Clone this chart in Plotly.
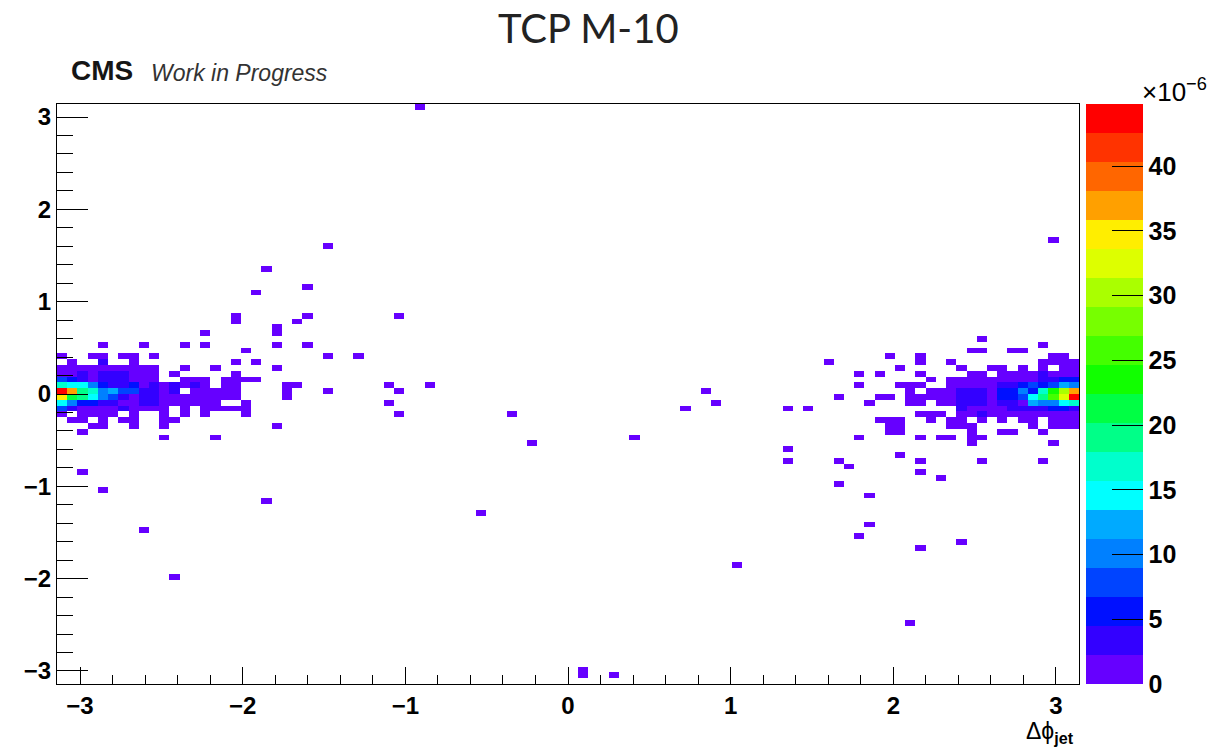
import numpy as np
import plotly.graph_objects as go

# ---------------- data (bin index in dphi_jet, weight in units of 1e-6) ----------------
N_BINS = 100
LO, HI = -np.pi, np.pi

# each row: (x-bin index, weight x1e-6) for the y-bin named in the variable
row_99 = [(35, 1.1)]
row_76 = [(97, 1.1)]
row_75 = [(26, 1.1)]
row_71 = [(20, 1.1)]
row_68 = [(24, 1.1)]
row_67 = [(19, 1.1)]
row_63 = [(17, 1.1), (24, 1.1), (33, 1.1)]
row_62 = [(17, 1.1), (23, 1.1)]
row_61 = [(21, 1.1)]
row_60 = [(14, 1.1), (21, 1.1)]
row_59 = [(90, 1.1)]
row_58 = [(4, 1.1), (8, 1.1), (12, 1.1), (14, 1.1), (21, 1.1), (24, 1.1), (96, 1.1)]
row_57 = [(18, 1.1), (89, 1.1), (90, 1.1), (93, 1.1), (94, 1.1)]
row_56 = [(0, 1.1), (3, 1.1), (4, 1.1), (6, 1.1), (7, 1.1), (9, 1.1), (26, 1.1), (29, 1.1),
          (81, 1.1), (84, 1.1), (97, 1.1), (98, 1.1)]
row_55 = [(1, 1.1), (4, 3.4), (7, 1.1), (17, 1.1), (19, 1.1), (75, 1.1), (84, 1.1), (87, 1.1),
          (96, 1.1), (97, 1.1), (98, 1.1), (99, 1.1)]
row_54 = [(0, 1.1), (1, 1.1), (2, 1.1), (3, 1.1), (4, 1.1), (5, 1.1), (6, 1.1), (7, 1.1), (8, 1.1),
          (9, 1.1), (12, 1.1), (15, 1.1), (21, 1.1), (82, 1.1), (88, 1.1), (91, 1.1), (92, 1.1),
          (94, 1.1), (96, 1.1), (98, 1.1), (99, 1.1)]
row_53 = [(0, 1.1), (1, 1.1), (2, 3.4), (3, 1.1), (4, 3.4), (5, 3.4), (6, 3.4), (7, 1.1), (8, 1.1),
          (9, 1.1), (11, 1.1), (17, 1.1), (78, 1.1), (80, 1.1), (84, 1.1), (89, 1.1), (90, 1.1),
          (92, 1.1), (93, 1.1), (94, 1.1), (95, 1.1), (96, 3.4), (97, 1.1), (98, 1.1), (99, 1.1)]
row_52 = [(0, 7.8), (1, 5.6), (2, 3.4), (3, 1.1), (4, 3.4), (5, 3.4), (6, 3.4), (7, 1.1), (8, 1.1),
          (9, 1.1), (12, 1.1), (13, 1.1), (14, 1.1), (16, 1.1), (17, 1.1), (18, 1.1), (19, 1.1),
          (85, 1.1), (87, 1.1), (88, 1.1), (89, 1.1), (90, 1.1), (91, 1.1), (92, 1.1), (93, 1.1),
          (94, 1.1), (95, 1.1), (96, 3.4), (97, 3.4), (98, 5.6), (99, 5.6)]
row_51 = [(0, 16.8), (1, 14.6), (2, 14.6), (3, 10.1), (4, 5.6), (5, 3.4), (6, 3.4), (7, 5.6),
          (8, 1.1), (9, 3.4), (10, 1.1), (11, 3.4), (12, 1.1), (13, 3.4), (14, 1.1), (16, 1.1),
          (17, 1.1), (22, 1.1), (23, 1.1), (32, 1.1), (36, 1.1), (78, 1.1), (82, 1.1), (83, 1.1),
          (84, 1.1), (87, 1.1), (88, 1.1), (89, 1.1), (90, 1.1), (91, 1.1), (92, 3.4), (93, 3.4),
          (94, 5.6), (95, 7.8), (96, 5.6), (97, 7.8), (98, 12.3), (99, 10.1)]
row_50 = [(0, 43.7), (1, 36.9), (2, 19.0), (3, 16.8), (4, 10.1), (5, 12.3), (6, 7.8), (7, 7.8),
          (8, 3.4), (9, 3.4), (10, 1.1), (11, 3.4), (13, 1.1), (14, 1.1), (15, 1.1), (16, 1.1),
          (17, 1.1), (22, 1.1), (26, 1.1), (33, 1.1), (63, 1.1), (83, 1.1), (85, 1.1), (86, 1.1),
          (87, 1.1), (88, 3.4), (89, 3.4), (90, 3.4), (91, 1.1), (92, 5.6), (93, 5.6), (94, 10.1),
          (95, 5.6), (96, 16.8), (97, 23.5), (98, 30.2), (99, 36.9)]
row_49 = [(0, 34.7), (1, 21.3), (2, 19.0), (3, 14.6), (4, 10.1), (5, 7.8), (6, 3.4), (7, 1.1),
          (8, 3.4), (9, 3.4), (10, 1.1), (11, 1.1), (12, 1.1), (13, 1.1), (14, 1.1), (15, 1.1),
          (16, 1.1), (17, 1.1), (22, 1.1), (76, 1.1), (80, 1.1), (81, 1.1), (83, 1.1), (84, 1.1),
          (85, 1.1), (86, 1.1), (87, 1.1), (88, 3.4), (89, 3.4), (90, 3.4), (91, 1.1), (92, 5.6),
          (93, 5.6), (94, 7.8), (95, 14.6), (96, 19.0), (97, 25.8), (98, 32.5), (99, 43.7)]
row_48 = [(0, 14.6), (1, 10.1), (2, 5.6), (3, 5.6), (4, 3.4), (5, 3.4), (6, 1.1), (7, 1.1),
          (8, 3.4), (9, 3.4), (10, 1.1), (11, 1.1), (12, 1.1), (13, 1.1), (14, 1.1), (15, 1.1),
          (18, 1.1), (32, 1.1), (64, 1.1), (79, 1.1), (83, 1.1), (84, 1.1), (86, 1.1), (87, 1.1),
          (88, 3.4), (89, 3.4), (90, 3.4), (91, 1.1), (92, 3.4), (93, 3.4), (94, 1.1), (95, 12.3),
          (96, 10.1), (97, 10.1), (98, 14.6), (99, 16.8)]
row_47 = [(0, 7.8), (1, 3.4), (2, 1.1), (3, 1.1), (4, 1.1), (5, 1.1), (6, 3.4), (7, 1.1), (8, 1.1),
          (9, 1.1), (10, 1.1), (12, 1.1), (14, 1.1), (15, 1.1), (16, 1.1), (17, 1.1), (18, 1.1),
          (61, 1.1), (71, 1.1), (73, 1.1), (88, 3.4), (89, 1.1), (90, 1.1), (91, 1.1), (92, 1.1),
          (93, 3.4), (94, 3.4), (95, 3.4), (96, 3.4), (97, 5.6), (98, 5.6), (99, 3.4)]
row_46 = [(0, 1.1), (2, 1.1), (3, 1.1), (4, 1.1), (5, 1.1), (7, 1.1), (10, 1.1), (12, 1.1),
          (14, 1.1), (18, 1.1), (33, 1.1), (44, 1.1), (84, 1.1), (85, 1.1), (86, 1.1), (88, 1.1),
          (89, 1.1), (90, 3.4), (91, 1.1), (92, 1.1), (93, 1.1), (94, 1.1), (95, 1.1), (96, 1.1),
          (97, 1.1), (98, 1.1), (99, 1.1)]
row_45 = [(1, 1.1), (2, 1.1), (4, 1.1), (6, 1.1), (7, 1.1), (10, 1.1), (11, 1.1), (80, 1.1),
          (81, 1.1), (82, 1.1), (85, 1.1), (87, 1.1), (88, 1.1), (90, 1.1), (92, 1.1), (94, 1.1),
          (95, 1.1), (97, 1.1), (98, 1.1), (99, 1.1)]
row_44 = [(3, 1.1), (4, 1.1), (7, 1.1), (10, 1.1), (21, 1.1), (81, 1.1), (82, 1.1), (87, 1.1),
          (88, 1.1), (89, 1.1), (95, 1.1), (97, 1.1), (98, 1.1), (99, 1.1)]
row_43 = [(2, 1.1), (81, 1.1), (82, 1.1), (89, 1.1), (92, 1.1), (93, 1.1), (96, 1.1)]
row_42 = [(10, 1.1), (15, 1.1), (56, 1.1), (78, 1.1), (84, 1.1), (86, 1.1), (87, 1.1), (89, 1.1),
          (90, 1.1)]
row_41 = [(46, 1.1), (89, 1.1), (97, 1.1)]
row_40 = [(71, 1.1)]
row_39 = [(82, 1.1)]
row_38 = [(71, 1.1), (76, 1.1), (84, 1.1), (90, 1.1), (96, 1.1)]
row_37 = [(77, 1.1)]
row_36 = [(2, 1.1), (84, 1.1)]
row_35 = [(86, 1.1)]
row_34 = [(76, 1.1)]
row_33 = [(4, 1.1)]
row_32 = [(79, 1.1)]
row_31 = [(20, 1.1)]
row_29 = [(41, 1.1)]
row_27 = [(79, 1.1)]
row_26 = [(8, 1.1)]
row_25 = [(78, 1.1)]
row_24 = [(88, 1.1)]
row_23 = [(84, 1.1)]
row_20 = [(66, 1.1)]
row_18 = [(11, 1.1)]
row_10 = [(83, 1.1)]
row_2 = [(51, 1.1)]
row_1 = [(51, 1.1), (54, 1.1)]

rows = {
    99: row_99, 76: row_76, 75: row_75, 71: row_71, 68: row_68, 67: row_67, 63: row_63,
    62: row_62, 61: row_61, 60: row_60, 59: row_59, 58: row_58, 57: row_57, 56: row_56,
    55: row_55, 54: row_54, 53: row_53, 52: row_52, 51: row_51, 50: row_50, 49: row_49,
    48: row_48, 47: row_47, 46: row_46, 45: row_45, 44: row_44, 43: row_43, 42: row_42,
    41: row_41, 40: row_40, 39: row_39, 38: row_38, 37: row_37, 36: row_36, 35: row_35,
    34: row_34, 33: row_33, 32: row_32, 31: row_31, 29: row_29, 27: row_27, 26: row_26,
    25: row_25, 24: row_24, 23: row_23, 20: row_20, 18: row_18, 10: row_10, 2: row_2, 1: row_1,
}

cbar_ticks = [0, 5, 10, 15, 20, 25, 30, 35, 40]
x_ticks = [-3, -2, -1, 0, 1, 2, 3]
y_ticks = [-3, -2, -1, 0, 1, 2, 3]
Z_MAX = 44.8

# ROOT-like rainbow palette, 20 contour levels
palette = ["#6600ff", "#3300ff", "#0010ff", "#0044ff", "#0080ff", "#00aaff", "#00ffff",
           "#00ffcc", "#00ff88", "#00ff44", "#11ff00", "#44ff00", "#77ff00", "#aaff00",
           "#ddff00", "#ffee00", "#ffa000", "#ff6600", "#ff3300", "#ff0000"]

# ---------------- build histogram matrix ----------------
edges = np.linspace(LO, HI, N_BINS + 1)
centers = 0.5 * (edges[:-1] + edges[1:])
z = np.full((N_BINS, N_BINS), np.nan)
for j, cells in rows.items():
    for k, w in cells:
        z[j, k] = w

n = len(palette)
colorscale = []
for i, c in enumerate(palette):
    colorscale.append([i / n, c])
    colorscale.append([(i + 1) / n, c])

tick_font = dict(family="Liberation Sans, Arial, sans-serif", size=24, color="black", weight="bold")

L, R, T, B = 57, 1079, 104, 684
W, H = R - L, B - T

fig = go.Figure(go.Heatmap(
    x=centers, y=centers, z=z,
    zmin=0, zmax=Z_MAX, colorscale=colorscale, zsmooth=False,
    hoverongaps=False,
    colorbar=dict(
        x=(1086 - L) / W, xanchor="left", xpad=0,
        y=0.5, yanchor="middle", len=1.0, lenmode="fraction", ypad=0,
        thickness=57, outlinewidth=0,
        tickmode="array", tickvals=cbar_ticks, ticktext=[str(t) for t in cbar_ticks],
        ticks="inside", ticklen=31, tickwidth=1, tickcolor="black",
        tickfont=dict(family="Liberation Sans, Arial, sans-serif", size=25, color="black", weight="bold"),
    ),
))

fig.update_layout(
    width=1214, height=749, autosize=False,
    margin=dict(l=L, r=1214 - R, t=T, b=749 - B, pad=0, autoexpand=False),
    paper_bgcolor="white", plot_bgcolor="white",
    showlegend=False,
    xaxis=dict(
        range=[LO, HI], tickmode="array", tickvals=x_ticks,
        ticks="inside", ticklen=17, tickwidth=1, tickcolor="black",
        minor=dict(dtick=0.2, tick0=0, ticks="inside", ticklen=9, tickwidth=1, tickcolor="black"),
        showline=True, linecolor="black", linewidth=1, mirror=True,
        showgrid=False, zeroline=False, tickfont=tick_font,
    ),
    yaxis=dict(
        range=[LO, HI], tickmode="array", tickvals=y_ticks,
        ticks="inside", ticklen=31, tickwidth=1, tickcolor="black",
        minor=dict(dtick=0.2, tick0=0, ticks="inside", ticklen=16, tickwidth=1, tickcolor="black"),
        showline=True, linecolor="black", linewidth=1, mirror=True,
        showgrid=False, zeroline=False, tickfont=tick_font,
    ),
)

def px(xp):
    return (xp - L) / W

def py(yp):
    return (B - yp) / H

fig.add_annotation(text="TCP M-10", x=px(588), y=py(28), xref="paper", yref="paper",
                   xanchor="center", yanchor="middle", showarrow=False,
                   font=dict(family="Lato, Open Sans, sans-serif", size=40, color="#222222"))
fig.add_annotation(text="<b>CMS</b>", x=px(69), y=py(71), xref="paper", yref="paper",
                   xanchor="left", yanchor="middle", showarrow=False,
                   font=dict(family="Liberation Sans, Arial, sans-serif", size=28, color="#151515"))
fig.add_annotation(text="<i>Work in Progress</i>", x=px(149), y=py(73), xref="paper", yref="paper",
                   xanchor="left", yanchor="middle", showarrow=False,
                   font=dict(family="Liberation Sans, Arial, sans-serif", size=23, color="#333333"))
fig.add_annotation(text="×10<sup>−6</sup>", x=px(1140), y=py(90), xref="paper", yref="paper",
                   xanchor="left", yanchor="middle", showarrow=False,
                   font=dict(family="Liberation Sans, Arial, sans-serif", size=26, color="black"))
fig.add_annotation(text="Δϕ<sub><b>jet</b></sub>", x=px(1050), y=py(732), xref="paper", yref="paper",
                   xanchor="center", yanchor="middle", showarrow=False,
                   font=dict(family="Liberation Sans, Arial, sans-serif", size=23, color="black"))

fig.write_html("out.html")
